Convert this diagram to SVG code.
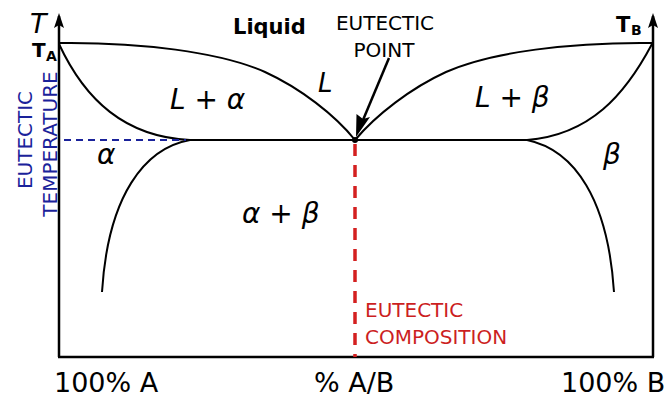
<svg xmlns="http://www.w3.org/2000/svg" width="669" height="399" viewBox="0 0 669 399">
<style>
text{font-family:"DejaVu Sans","Liberation Sans",sans-serif;fill:#000}
.it{font-style:italic;font-size:28px}
.axis{stroke:#000;stroke-width:2.5;fill:none}
.curve{stroke:#000;stroke-width:2;fill:none}
.blue{fill:#1a229a;font-size:20px}
.red{fill:#cc1f1f;font-size:20px}
.lab{font-size:27px}
</style>
<rect width="669" height="399" fill="#fff"/>
<g id="axes">
<path class="axis" d="M59,357 L59,16"/>
<path d="M59,13 L64,28 L59,25 L54,28 Z" fill="#000"/>
<path class="axis" d="M653,357 L653,16"/>
<path d="M653,13 L658,28 L653,25 L648,28 Z" fill="#000"/>
<path class="axis" d="M58,357 L654,357"/>
</g>
<g id="connectors">
<path class="curve" d="M59,43 C140,42 220,52 265,72 C300,88 335,115 355,140"/>
<path class="curve" d="M652,43 C571,42 491,52 446,72 C411,88 376,115 355,140"/>
<path class="curve" d="M59,44 C85,100 125,137 190,140"/>
<path class="curve" d="M652,44 C625,95 590,135 527,140"/>
<path class="curve" d="M190,140 C145,148 108,195 102,292"/>
<path class="curve" d="M527,140 C575,150 608,200 614,292"/>
<path class="curve" d="M185,140 L530,140"/>
<path d="M64,140 L186,140" stroke="#1a229a" stroke-width="2" stroke-dasharray="7,5" fill="none"/>
<path d="M355,144 L355,357" stroke="#d42020" stroke-width="3.5" stroke-dasharray="12,9" fill="none"/>
<circle cx="355" cy="140" r="3" fill="#000"/>
<path d="M389,58 L363,120" stroke="#000" stroke-width="2.5" fill="none"/>
<path d="M356,137 L356.5,114 L363,119 L370,117 Z" fill="#000"/>
</g>
<g id="labels">
<text x="30" y="33" style="font-style:italic;font-size:27px">T</text>
<text x="32" y="57" style="font-weight:bold;font-size:20px">T</text>
<text x="46" y="61" style="font-weight:bold;font-size:14px">A</text>
<text x="616" y="32" style="font-weight:bold;font-size:21px">T</text>
<text x="631" y="35" style="font-weight:bold;font-size:14px">B</text>
<text x="233" y="34" style="font-weight:bold;font-size:21px">Liquid</text>
<text x="385" y="30" text-anchor="middle" style="font-size:20px">EUTECTIC</text>
<text x="384" y="57" text-anchor="middle" style="font-size:20px">POINT</text>
<text class="it" x="318" y="92" style="font-size:26px">L</text>
<text class="it" x="170" y="109">L + α</text>
<text class="it" x="475" y="107">L + β</text>
<text class="it" x="97" y="164">α</text>
<text class="it" x="603" y="164">β</text>
<text class="it" x="242" y="223">α + β</text>
<text class="blue" transform="translate(32,140) rotate(-90)" text-anchor="middle">EUTECTIC</text>
<text class="blue" transform="translate(57,144) rotate(-90)" text-anchor="middle">TEMPERATURE</text>
<text class="red" x="365" y="317">EUTECTIC</text>
<text class="red" x="365" y="344">COMPOSITION</text>
<text class="lab" x="54" y="392">100% A</text>
<text class="lab" x="314" y="392">% A/B</text>
<text class="lab" x="561" y="392">100% B</text>
</g>
</svg>
